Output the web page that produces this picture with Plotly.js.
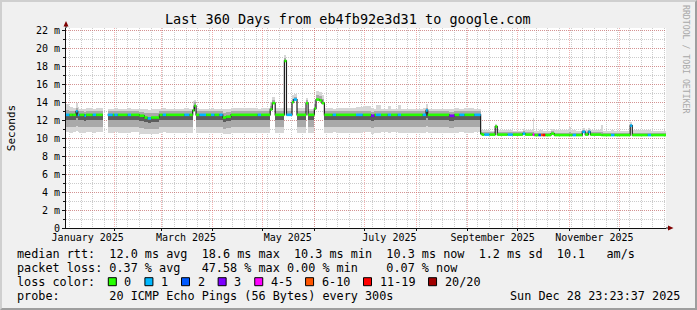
<!DOCTYPE html>
<html><head><meta charset="utf-8">
<script src="https://cdn.plot.ly/plotly-3.0.1.min.js"></script>
<style>
html,body{margin:0;padding:0;background:#f0f0f0;}
#wrap{position:relative;width:697px;height:310px;overflow:hidden;}
#chart{width:697px;height:310px;}
#frame{position:absolute;left:0;top:0;width:697px;height:310px;box-sizing:border-box;border-top:2px solid #cfcfcf;border-left:2px solid #cfcfcf;border-right:2px solid #9e9e9e;border-bottom:2px solid #9e9e9e;pointer-events:none;}
</style></head><body>
<div id="wrap"><div id="chart"></div><div id="frame"></div></div>
<script>
// ---- data (values in milliseconds) ----
const binStart = [
'2025-01-02 12:00','2025-01-05','2025-01-07','2025-01-09','2025-01-10','2025-01-11','2025-01-14','2025-01-15','2025-01-19','2025-01-21',
'2025-01-25','2025-01-28','2025-01-31','2025-02-01','2025-02-03','2025-02-09','2025-02-11','2025-02-16','2025-02-19','2025-02-21',
'2025-02-23','2025-02-28','2025-03-02','2025-03-04','2025-03-15','2025-03-18','2025-03-20','2025-03-21','2025-03-22','2025-03-24',
'2025-03-28','2025-03-31','2025-04-02','2025-04-05','2025-04-07','2025-04-09','2025-04-12','2025-04-28','2025-04-30','2025-05-05 12:00',
'2025-05-06 18:00','2025-05-08 12:00','2025-05-14','2025-05-15 06:00','2025-05-18 14:00','2025-05-19 14:00','2025-05-21 14:00','2025-05-27','2025-05-28 06:00','2025-06-01',
'2025-06-02','2025-06-04','2025-06-05 12:00','2025-06-07','2025-06-12','2025-06-14','2025-06-26','2025-06-30','2025-07-05','2025-07-07',
'2025-07-08','2025-07-11','2025-07-15','2025-07-17','2025-07-21','2025-07-23','2025-08-05','2025-08-07','2025-08-08','2025-08-21',
'2025-08-24','2025-08-27','2025-08-30','2025-09-05','2025-09-08 18:00','2025-09-09 12:00','2025-09-11','2025-09-14','2025-09-17 12:00','2025-09-18 18:00',
'2025-09-25','2025-09-28','2025-10-04','2025-10-05 12:00','2025-10-10','2025-10-11','2025-10-13 12:00','2025-10-15','2025-10-16','2025-10-17 12:00',
'2025-10-21','2025-10-23','2025-11-01','2025-11-02','2025-11-03','2025-11-05','2025-11-08 18:00','2025-11-10 12:00','2025-11-12 09:00','2025-11-13 15:00',
'2025-11-20','2025-11-21','2025-11-26','2025-11-28','2025-12-07 12:00','2025-12-08 18:00','2025-12-18','2025-12-20'
];
const binEnd = '2025-12-28 23:23';

const medianMs = [
12.6,12.6,12.6,13.0,12.6,12.6,12.5,12.6,12.6,12.6,
null,12.6,12.6,12.6,12.6,12.6,12.6,12.5,12.3,12.2,
12.3,12.6,12.6,12.6,12.6,12.6,13.1,13.6,12.6,12.6,
12.6,12.6,12.6,12.6,12.3,12.4,12.6,12.6,12.6,13.2,
13.9,12.6,18.6,12.6,14.0,14.3,12.6,13.9,12.6,13.3,
14.3,14.2,13.9,12.6,12.6,12.6,12.6,12.6,12.5,12.6,
12.6,12.6,12.6,12.6,12.6,12.6,12.6,13.1,12.6,12.5,
12.6,12.6,12.6,12.6,10.5,10.4,10.4,10.4,11.3,10.4,
10.4,10.4,10.5,10.4,10.4,10.35,10.35,10.35,10.35,10.35,
10.5,10.35,10.35,10.35,10.35,10.35,10.7,10.4,10.7,10.4,
10.35,10.35,10.35,10.35,11.4,10.35,10.35,10.35
];
const lossIdx = [
1,0,0,1,1,0,1,0,1,0,
null,1,0,1,0,1,0,0,0,1,
0,0,1,0,1,0,0,0,0,1,
0,1,0,1,0,0,0,1,0,0,
0,0,0,1,0,1,0,0,0,0,
0,0,0,0,1,0,1,0,3,0,
1,0,1,0,1,0,1,1,0,3,
0,1,0,1,0,0,1,0,0,0,
1,0,1,0,4,0,2,5,6,0,
0,0,0,0,1,0,1,0,1,0,
0,0,1,0,1,0,1,0
];
const smokeMin = [
10.7,10.6,10.7,10.8,10.7,10.6,10.6,10.7,10.6,10.7,
null,10.6,10.6,10.7,10.6,10.6,10.7,10.5,10.5,10.5,
10.5,10.6,10.7,10.6,10.6,10.6,13.1,13.6,10.6,10.6,
10.6,10.6,10.6,10.6,10.5,10.5,10.6,10.6,10.6,13.2,
13.9,10.6,18.5,12.6,14.0,14.3,10.6,13.9,10.6,13.3,
14.3,14.2,13.9,10.6,10.7,10.6,10.6,10.7,10.5,10.6,
10.6,10.7,10.6,10.7,10.6,10.6,10.6,10.7,10.6,10.6,
10.6,10.7,10.6,10.7,10.5,10.4,10.4,10.4,11.3,10.4,
10.4,10.4,10.5,10.4,10.4,10.35,10.35,10.35,10.35,10.35,
10.5,10.35,10.35,10.35,10.35,10.35,10.7,10.4,10.7,10.4,
10.35,10.35,10.35,10.35,11.4,10.35,10.35,10.35
];
const smokeLow = [
11.3,11.2,11.2,11.4,11.3,11.2,11.2,11.3,11.2,11.2,
null,11.2,11.2,11.3,11.2,11.2,11.3,11.1,11.0,11.0,
11.0,11.2,11.3,11.2,11.2,11.2,13.1,13.6,11.2,11.2,
11.2,11.2,11.2,11.2,11.0,11.1,11.2,11.2,11.2,13.2,
13.9,11.2,18.5,12.6,14.0,14.3,11.2,13.9,11.2,13.3,
14.3,14.2,13.9,11.2,11.3,11.2,11.2,11.3,11.1,11.2,
11.2,11.3,11.2,11.3,11.2,11.2,11.2,11.4,11.2,11.1,
11.2,11.3,11.2,11.3,10.5,10.4,10.4,10.4,11.3,10.4,
10.4,10.4,10.5,10.4,10.4,10.35,10.35,10.35,10.35,10.35,
10.5,10.35,10.35,10.35,10.35,10.35,10.7,10.4,10.7,10.4,
10.35,10.35,10.35,10.35,11.4,10.35,10.35,10.35
];
const smokeMid = [
12.0,12.0,12.0,12.2,12.0,12.0,11.9,12.0,12.0,12.0,
null,12.0,12.0,12.0,12.0,12.0,12.0,11.9,11.8,11.7,
11.8,12.0,12.0,12.0,12.0,12.0,13.1,13.6,12.0,12.0,
12.0,12.0,12.0,12.0,11.8,11.9,12.0,12.0,12.0,13.2,
13.9,12.0,18.5,12.6,14.0,14.3,12.0,13.9,12.0,13.3,
14.3,14.2,13.9,12.0,12.0,12.0,12.0,12.0,11.9,12.0,
12.0,12.0,12.0,12.0,12.0,12.0,12.0,12.2,12.0,11.9,
12.0,12.0,12.0,12.0,10.5,10.4,10.4,10.4,11.3,10.4,
10.4,10.4,10.5,10.4,10.4,10.35,10.35,10.35,10.35,10.35,
10.5,10.35,10.35,10.35,10.35,10.35,10.7,10.4,10.7,10.4,
10.35,10.35,10.35,10.35,11.4,10.35,10.35,10.35
];
const smokeHigh = [
13.1,13.0,13.0,13.4,13.0,13.0,12.9,13.0,13.0,13.0,
null,13.0,13.0,13.0,13.0,13.0,13.0,12.9,12.8,12.8,
12.8,13.0,13.0,13.0,13.0,13.0,13.6,14.0,13.0,13.0,
13.0,13.0,13.0,13.0,12.8,12.9,13.0,13.0,13.0,13.6,
14.2,13.0,18.9,13.0,14.4,14.6,13.0,14.2,13.0,13.8,
14.8,14.7,14.4,13.0,13.0,13.0,13.0,13.0,12.9,13.0,
13.0,13.0,13.0,13.0,13.0,13.0,13.0,13.4,13.0,12.9,
13.0,13.0,13.0,13.0,10.7,10.65,10.65,10.65,11.45,10.65,
10.65,10.65,10.75,10.65,10.7,10.6,10.6,10.6,10.6,10.6,
10.75,10.6,10.65,10.6,10.6,10.6,10.9,10.65,10.9,10.65,
10.65,10.6,10.6,10.6,11.6,10.6,10.6,10.6
];
const smokeMax = [
13.8,13.5,13.4,13.9,13.5,13.3,13.3,13.4,13.3,13.4,
null,13.3,13.3,13.4,13.3,13.4,13.3,13.2,13.2,13.1,
13.2,13.3,13.4,13.3,13.4,13.3,14.1,14.3,13.4,13.3,
13.3,13.4,13.3,13.3,13.2,13.2,13.4,13.3,13.4,14.0,
14.6,13.4,19.3,13.4,14.8,14.9,13.4,14.5,13.3,14.3,
15.2,15.1,14.8,13.4,13.3,13.4,13.5,13.6,13.4,13.3,
13.7,13.3,13.6,13.3,13.7,13.3,13.4,13.8,13.3,13.3,
13.4,13.3,13.4,13.3,10.9,10.9,10.9,10.85,11.6,10.9,
10.9,10.85,11.0,10.9,12.3,10.85,10.9,10.9,10.85,10.85,
11.0,10.9,11.3,10.9,10.9,10.85,11.1,10.9,11.1,10.9,
11.5,10.85,10.9,10.85,11.8,10.9,10.9,10.85
];

const lossLabels = ['0','1','2','3','4-5','6-10','11-19','20/20'];
const lossColors = ['#26ff00','#00b8ff','#0059ff','#7e00ff','#ff00ff','#ff5500','#ff0000','#a10000'];

const monthStarts = ['2025-02-01','2025-03-01','2025-04-01','2025-05-01','2025-06-01','2025-07-01','2025-08-01','2025-09-01','2025-10-01','2025-11-01','2025-12-01'];
const monthLabelDates = ['2025-01-16','2025-03-16','2025-05-16','2025-07-16','2025-09-16','2025-11-16'];
const monthLabels = ['January 2025','March 2025','May 2025','July 2025','September 2025','November 2025'];
const yTickVals = [0,2,4,6,8,10,12,14,16,18,20,22];
const yTickText = ['0','2 m','4 m','6 m','8 m','10 m','12 m','14 m','16 m','18 m','20 m','22 m'];

const titleText = 'Last 360 Days from eb4fb92e3d31 to google.com';
const legendLines = [
  'median rtt:  12.0 ms avg  18.6 ms max  10.3 ms min  10.3 ms now  1.2 ms sd  10.1   am/s',
  'packet loss: 0.37 % avg   47.58 % max 0.00 % min    0.07 % now',
  'loss color:',
  'probe:       20 ICMP Echo Pings (56 Bytes) every 300s'
];
const stampText = 'Sun Dec 28 23:23:37 2025';
const xRange = ['2025-01-02 23:23:37','2025-12-28 23:23:37'];

// ---- helpers ----
function ms(s){const p=s.split(' ');const d=p[0].split('-').map(Number);const t=(p[1]||'00:00').split(':').map(Number);return Date.UTC(d[0],d[1]-1,d[2],t[0],t[1]);}
const binEnds = binStart.slice(1).concat([binEnd]);
const widths = binStart.map((d,i)=>ms(binEnds[i])-ms(d));
const L=66, PW=600, T=28, PH=200, BOT=T+PH;
const px2x = px => (px-L)/PW;
const px2y = py => (BOT-py)/PH;
const nb = s => s.replace(/ /g,'\u00a0');

function band(lo, hi, color){
  return {type:'bar', x:binStart, base:lo,
    y: lo.map((v,i)=> (v==null||hi[i]==null)?null:+(hi[i]-v).toFixed(3)),
    width:widths, offset:0, marker:{color:color, line:{width:0}}, hoverinfo:'skip', showlegend:false};
}
const traces = [
  band(smokeMin, smokeMax, '#d6d6d6'),
  band(smokeLow, smokeHigh, '#a9a9a9'),
  band(smokeMid, medianMs, '#5c5c5c')
];
// dark median step line
const mx=[], my=[];
binStart.forEach((d,i)=>{
  const v=medianMs[i];
  if(v==null){mx.push(d); my.push(null); return;}
  mx.push(d); my.push(v);
  if(i===binStart.length-1 || medianMs[i+1]==null){mx.push(binEnds[i]); my.push(v);}
});
traces.push({type:'scatter', mode:'lines', x:mx, y:my, line:{shape:'hv', color:'#202020', width:1.2}, connectgaps:false, hoverinfo:'skip', showlegend:false});
// loss-coloured median segments
lossColors.forEach((c,k)=>{
  const xs=[], ys=[];
  binStart.forEach((d,i)=>{ if(lossIdx[i]===k && medianMs[i]!=null){ xs.push(d, binEnds[i], null); ys.push(medianMs[i], medianMs[i], null);} });
  if(xs.length) traces.push({type:'scatter', mode:'lines', x:xs, y:ys, line:{color:c, width:2.6}, hoverinfo:'skip', showlegend:false});
});
// carrier for label axis
traces.push({type:'scatter', mode:'lines', x:[xRange[0]], y:[null], xaxis:'x2', yaxis:'y', hoverinfo:'skip', showlegend:false});

const MONO = 'DejaVu Sans Mono';
const redGrid='rgba(222,80,80,0.46)', grayGrid='rgba(143,143,143,0.46)';

const annotations = [];
const shapes = [];
const rowY = [254.3, 268.3, 282.0, 295.7];
legendLines.forEach((t,i)=>annotations.push({xref:'paper',yref:'paper',x:px2x(15.5),y:px2y(rowY[i]),xanchor:'left',yanchor:'middle',text:nb(t),showarrow:false,borderpad:0,font:{family:MONO,size:11.8,color:'#000'}}));
annotations.push({xref:'paper',yref:'paper',x:px2x(681),y:px2y(rowY[3]),xanchor:'right',yanchor:'middle',text:nb(stampText),showarrow:false,borderpad:0,font:{family:MONO,size:11.8,color:'#000'}});
annotations.push({xref:'paper',yref:'paper',x:px2x(686),y:px2y(59),xanchor:'center',yanchor:'middle',text:nb('RRDTOOL / TOBI OETIKER'),textangle:90,showarrow:false,borderpad:0,font:{family:MONO,size:8.2,color:'#a8a8a8'}});
// loss colour swatches
let cx = 108.3;
lossLabels.forEach((lab,k)=>{
  shapes.push({type:'rect',xref:'paper',yref:'paper',x0:px2x(cx),x1:px2x(cx+8),y0:px2y(277.7),y1:px2y(285.7),fillcolor:lossColors[k],line:{color:'#000',width:1}});
  annotations.push({xref:'paper',yref:'paper',x:px2x(cx+15),y:px2y(rowY[2]),xanchor:'left',yanchor:'middle',text:lab,showarrow:false,borderpad:0,font:{family:MONO,size:11.8,color:'#000'}});
  cx = cx + 15 + lab.length*7.11 + 14.5;
});
// axis extensions and arrows
shapes.push({type:'line',xref:'paper',yref:'paper',x0:0,x1:0,y0:1,y1:px2y(23),line:{color:'#101010',width:1}});
shapes.push({type:'line',xref:'paper',yref:'paper',x0:1,x1:px2x(669),y0:0,y1:0,line:{color:'#101010',width:1}});
shapes.push({type:'path',xref:'paper',yref:'paper',path:`M ${px2x(63.5)} ${px2y(26.5)} L ${px2x(68.5)} ${px2y(26.5)} L ${px2x(66)} ${px2y(21)} Z`,fillcolor:'#7f0000',line:{width:0}});
shapes.push({type:'path',xref:'paper',yref:'paper',path:`M ${px2x(668)} ${px2y(225.5)} L ${px2x(668)} ${px2y(230.5)} L ${px2x(673.5)} ${px2y(228)} Z`,fillcolor:'#7f0000',line:{width:0}});

const layout = {
  width:697, height:310,
  margin:{l:L, r:697-L-PW, t:T, b:310-BOT, pad:0},
  paper_bgcolor:'#f0f0f0', plot_bgcolor:'#ffffff',
  font:{family:MONO, size:10, color:'#000'},
  showlegend:false, barmode:'overlay', bargap:0,
  title:{text:titleText, font:{family:MONO, size:13.5, color:'#000'}, xref:'container', x:347.8/697, xanchor:'center', yref:'container', y:1-19/310, yanchor:'middle'},
  xaxis:{type:'date', range:xRange, tickmode:'array', tickvals:monthStarts, showticklabels:false,
    ticks:'outside', ticklen:2, tickcolor:'#101010', showgrid:true, gridcolor:redGrid, griddash:'1px,1px', gridwidth:1,
    minor:{tickmode:'linear', tick0:'2025-01-05', dtick:604800000, showgrid:true, gridcolor:grayGrid, griddash:'1px,1px', gridwidth:1, ticks:''},
    showline:true, linecolor:'#101010', linewidth:1, zeroline:false, automargin:false, fixedrange:true},
  xaxis2:{type:'date', range:xRange, overlaying:'x', anchor:'y', side:'bottom', tickmode:'array', tickvals:monthLabelDates, ticktext:monthLabels,
    showgrid:false, ticks:'', showline:false, zeroline:false, tickfont:{family:MONO,size:10,color:'#000'}, ticklabelstandoff:2, automargin:false, fixedrange:true},
  yaxis:{range:[0,22.27], tickmode:'array', tickvals:yTickVals, ticktext:yTickText, ticks:'outside', ticklen:3, tickcolor:'#101010',
    showgrid:true, gridcolor:redGrid, griddash:'1px,1px', gridwidth:1,
    minor:{tickmode:'linear', tick0:0, dtick:1, showgrid:true, gridcolor:grayGrid, griddash:'1px,1px', gridwidth:1, ticks:'outside', ticklen:2, tickcolor:'#101010'},
    showline:true, linecolor:'#101010', linewidth:1, zeroline:false, tickfont:{family:MONO,size:10,color:'#000'},
    title:{text:'Seconds', font:{family:MONO,size:11,color:'#000'}, standoff:18}, automargin:false, fixedrange:true},
  annotations:annotations, shapes:shapes
};
Plotly.newPlot('chart', traces, layout, {displayModeBar:false, staticPlot:true});
</script></body></html>
